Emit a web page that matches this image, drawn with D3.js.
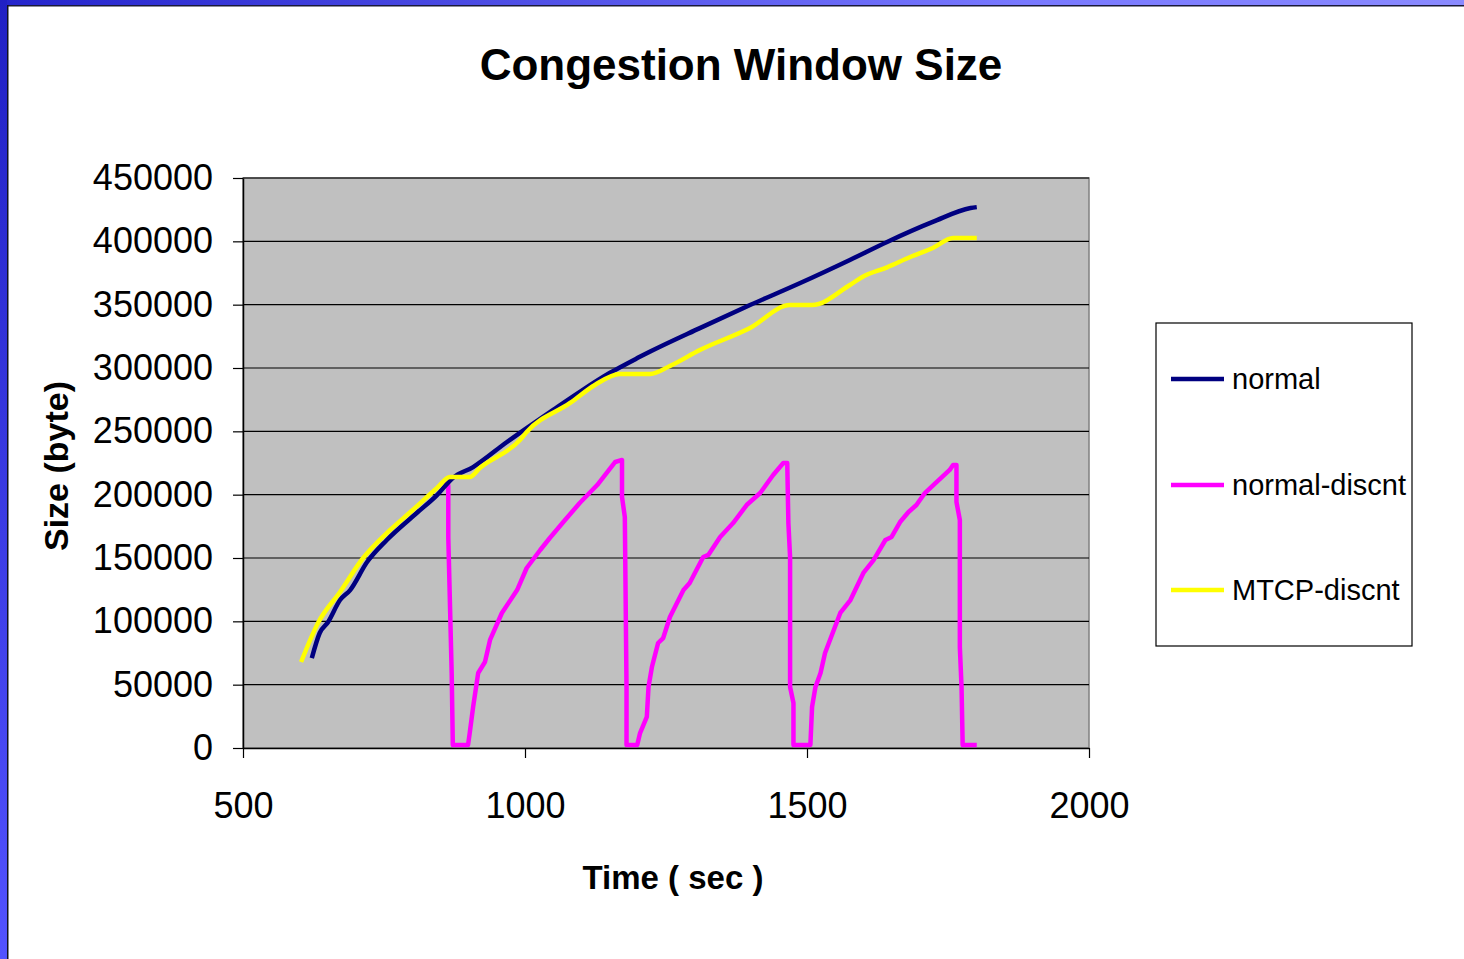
<!DOCTYPE html>
<html>
<head>
<meta charset="utf-8">
<script src="https://cdn.jsdelivr.net/npm/d3@7"></script>
<style>
  html, body { margin: 0; padding: 0; background: #ffffff; }
  svg { display: block; }
  text { font-family: "Liberation Sans", Arial, sans-serif; }
</style>
</head>
<body>
<svg id="chart" width="1464" height="959"></svg>
<script>
// ---- data ----
const chartTitle = "Congestion Window Size";
const xTitle = "Time ( sec )";
const yTitle = "Size (byte)";
const seriesNames = ["normal", "normal-discnt", "MTCP-discnt"];
const seriesColors = ["#000080", "#FF00FF", "#FFFF00"];
const xTicks = [500, 1000, 1500, 2000];
const yTicks = [0, 50000, 100000, 150000, 200000, 250000, 300000, 350000, 400000, 450000];

const normalX = [622, 636, 651, 672, 690, 720, 755, 808, 844, 872, 908, 968, 1003, 1050, 1100, 1150, 1200, 1222, 1310, 1399, 1488, 1576, 1642, 1723, 1790, 1801];
const normalY = [71000, 90800, 99500, 116800, 124700, 146800, 164200, 185500, 199700, 213200, 221800, 241600, 252600, 267000, 282000, 296000, 308000, 313000, 331500, 349700, 367100, 385300, 399500, 415300, 426300, 427000];

const discntX = [855, 862, 864, 864, 870, 872, 899, 902, 908, 917, 929, 938, 959, 986, 1003, 1027, 1044, 1071, 1097, 1128, 1160, 1172,
                 1172, 1177, 1180, 1180, 1199, 1204, 1216, 1219, 1225, 1236, 1245, 1257, 1281, 1292, 1316, 1325, 1346, 1369, 1393, 1417, 1440, 1458, 1465,
                 1467, 1470, 1470, 1476, 1476, 1506, 1509, 1515, 1524, 1532, 1559, 1577, 1600, 1618, 1639, 1650, 1665, 1680, 1694, 1709, 1724, 1753, 1759, 1765,
                 1765, 1771, 1771, 1774, 1776, 1801];
const discntY = [209200, 212400, 206800, 166600, 59200, 2400, 2400, 11800, 32400, 59200, 67900, 85300, 106600, 124700, 142100, 156300, 165800, 180000, 193400, 207600, 225800, 227400,
                 198200, 182400, 48200, 2400, 2400, 11800, 24500, 48200, 63900, 82900, 86800, 103400, 124700, 130300, 150800, 152400, 166600, 177600, 191800, 201300, 215500, 225000, 225000,
                 177600, 150800, 48200, 35500, 2400, 2400, 32400, 48200, 59200, 75000, 106600, 116800, 138200, 148400, 164200, 166600, 178400, 186300, 191800, 201300, 207600, 219500, 223400, 223400,
                 194200, 180000, 79700, 48200, 2400, 2400];

const mtcpX = [603, 633, 672, 713, 755, 801, 844, 867, 902, 920, 991, 1003, 1080, 1124, 1168, 1222, 1257, 1310, 1399, 1470, 1509, 1576, 1599, 1642, 1683, 1723, 1759, 1801];
const mtcpY = [67900, 98700, 123200, 150000, 169700, 187900, 205300, 214000, 214000, 221100, 243200, 249500, 272400, 286600, 295300, 295300, 301600, 314200, 331600, 349700, 349700, 365500, 372100, 379500, 387600, 394700, 402600, 402600];

// ---- drawing ----
const svg = d3.select("#chart");
const W = 1464, H = 959;
const plot = { left: 243, right: 1089, top: 178, bottom: 748 };

// frame gradients
const defs = svg.append("defs");
const gLeft = defs.append("linearGradient").attr("id", "gLeft").attr("x1", 0).attr("y1", 0).attr("x2", 0).attr("y2", 1);
gLeft.append("stop").attr("offset", "0%").attr("stop-color", "#2020c4");
gLeft.append("stop").attr("offset", "100%").attr("stop-color", "#5252ff");
const gTop = defs.append("linearGradient").attr("id", "gTop").attr("x1", 0).attr("y1", 0).attr("x2", 1).attr("y2", 0);
gTop.append("stop").attr("offset", "0%").attr("stop-color", "#2424cc");
gTop.append("stop").attr("offset", "70%").attr("stop-color", "#7878ff");
gTop.append("stop").attr("offset", "100%").attr("stop-color", "#8a8aff");

svg.append("rect").attr("x", 0).attr("y", 0).attr("width", W).attr("height", H).attr("fill", "#ffffff");
svg.append("rect").attr("x", 0).attr("y", 0).attr("width", W).attr("height", 5).attr("fill", "url(#gTop)");
svg.append("rect").attr("x", 0).attr("y", 0).attr("width", 7).attr("height", H).attr("fill", "url(#gLeft)");
svg.append("rect").attr("x", 7).attr("y", 5).attr("width", W - 7).attr("height", 1.5).attr("fill", "#1a1a3a");
svg.append("rect").attr("x", 7).attr("y", 5).attr("width", 1.5).attr("height", H - 5).attr("fill", "#111122");

const x = d3.scaleLinear().domain([500, 2000]).range([plot.left, plot.right]);
const y = d3.scaleLinear().domain([0, 450000]).range([plot.bottom, plot.top]);

// plot area
svg.append("rect")
  .attr("x", plot.left).attr("y", plot.top)
  .attr("width", plot.right - plot.left).attr("height", plot.bottom - plot.top)
  .attr("fill", "#C0C0C0").attr("stroke", "#808080").attr("stroke-width", 1.5);

// gridlines
svg.append("g").selectAll("line").data(yTicks.filter(d => d > 0)).join("line")
  .attr("x1", plot.left).attr("x2", plot.right)
  .attr("y1", d => y(d)).attr("y2", d => y(d))
  .attr("stroke", "#000000").attr("stroke-width", 1.2);

// axes
const yAxis = svg.append("g").attr("transform", `translate(${plot.left},0)`)
  .call(d3.axisLeft(y).tickValues(yTicks).tickFormat(d3.format("d")).tickSize(10).tickSizeOuter(0).tickPadding(20));
const xAxis = svg.append("g").attr("transform", `translate(0,${plot.bottom})`)
  .call(d3.axisBottom(x).tickValues(xTicks).tickFormat(d3.format("d")).tickSize(10).tickSizeOuter(0).tickPadding(34));
[yAxis, xAxis].forEach(g => {
  g.select(".domain").attr("stroke", "#000").attr("stroke-width", 1.5);
  g.selectAll(".tick line").attr("stroke", "#000").attr("stroke-width", 1.2);
  g.selectAll(".tick text").attr("fill", "#000").attr("font-size", 36)
    .attr("font-family", "'Liberation Sans', Arial, sans-serif");
});

// series lines
const smoothLine = d3.line().x(d => x(d[0])).y(d => y(d[1])).curve(d3.curveMonotoneX);
const straightLine = d3.line().x(d => x(d[0])).y(d => y(d[1]));
const seriesData = [
  d3.zip(normalX, normalY),
  d3.zip(discntX, discntY),
  d3.zip(mtcpX, mtcpY)
];
const drawOrder = [1, 0, 2];
drawOrder.forEach(i => {
  svg.append("path").datum(seriesData[i])
    .attr("d", i === 1 ? straightLine : smoothLine)
    .attr("fill", "none")
    .attr("stroke", seriesColors[i])
    .attr("stroke-width", 4.5)
    .attr("stroke-linejoin", "round");
});

// title
svg.append("text").attr("x", 741).attr("y", 80).attr("text-anchor", "middle")
  .attr("font-size", 44).attr("font-weight", "bold").attr("fill", "#000").text(chartTitle);

// axis titles
svg.append("text").attr("x", 673).attr("y", 889).attr("text-anchor", "middle")
  .attr("font-size", 33).attr("font-weight", "bold").attr("fill", "#000").text(xTitle);
svg.append("text").attr("transform", "translate(68,466) rotate(-90)").attr("text-anchor", "middle")
  .attr("font-size", 34).attr("font-weight", "bold").attr("fill", "#000").text(yTitle);

// legend
const lg = svg.append("g");
lg.append("rect").attr("x", 1156).attr("y", 323).attr("width", 256).attr("height", 323)
  .attr("fill", "#fff").attr("stroke", "#000").attr("stroke-width", 1.2);
const legendY = [379, 485, 590];
seriesNames.forEach((name, i) => {
  lg.append("line").attr("x1", 1171).attr("x2", 1224).attr("y1", legendY[i]).attr("y2", legendY[i])
    .attr("stroke", seriesColors[i]).attr("stroke-width", 4.5);
  lg.append("text").attr("x", 1232).attr("y", legendY[i] + 10)
    .attr("font-size", 29).attr("fill", "#000").text(name);
});
</script>
</body>
</html>
